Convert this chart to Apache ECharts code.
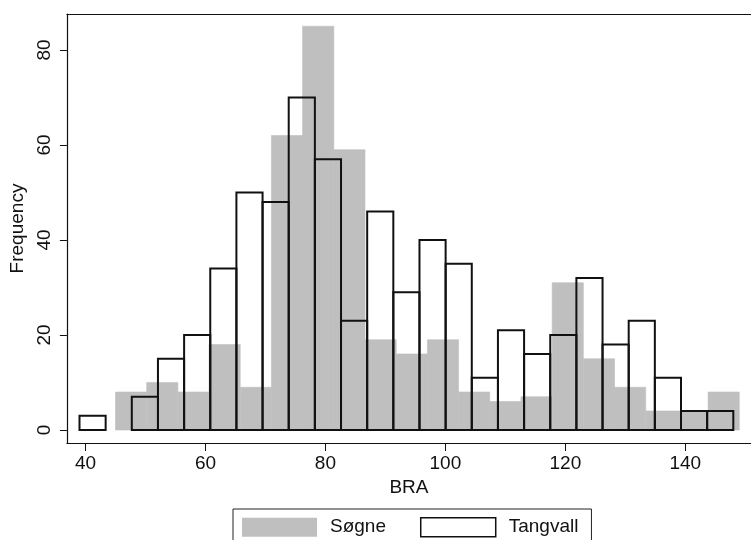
<!DOCTYPE html>
<html>
<head>
<meta charset="utf-8">
<script src="https://cdn.jsdelivr.net/npm/echarts@6/dist/echarts.min.js"></script>
<style>
  html, body { margin: 0; padding: 0; background: #fff; }
  #chart { width: 751px; height: 540px; }
</style>
</head>
<body>
<div id="chart"></div>
<script>
// Søgne: 20 bins, width 5.2, first bin starts at 45
const sogneStart = 45;
const sogneBinWidth = 5.2;
const sogneCounts = [8, 10, 8, 18, 9, 62, 85, 59, 19, 16, 19, 8, 6, 7, 31, 15, 9, 4, 4, 8];

// Tangvall: 25 bins, width 4.36, first bin starts at 39
const tangvallStart = 39;
const tangvallBinWidth = 4.36;
const tangvallCounts = [3, 0, 7, 15, 20, 34, 50, 48, 70, 57, 23, 46, 29, 40, 35, 11, 21, 16, 20, 32, 18, 23, 11, 4, 4];

const xTicks = [40, 60, 80, 100, 120, 140];
const yTicks = [0, 20, 40, 60, 80];

const FONT = "'Liberation Sans', Arial, Helvetica, sans-serif";
const GREY = '#bfbfbf';
const INK = '#111';

// [lower edge, upper edge, count] for each bin
function toBins(start, width, counts) {
  return counts.map((c, i) => [start + i * width, start + (i + 1) * width, c]);
}

function histRenderer(style) {
  return function (params, api) {
    const lo = api.value(0), hi = api.value(1), n = api.value(2);
    if (!n) return null;
    const base = api.coord([lo, 0]);
    const top = api.coord([hi, n]);
    return {
      type: 'rect',
      shape: { x: base[0], y: top[1], width: top[0] - base[0], height: base[1] - top[1] },
      style: style
    };
  };
}

const chart = echarts.init(document.getElementById('chart'), null, { renderer: 'canvas' });

chart.setOption({
  animation: false,
  backgroundColor: '#fff',
  textStyle: { fontFamily: FONT, color: INK },
  grid: { left: 64, top: 14, right: -11, bottom: 97, containLabel: false },
  xAxis: [
    {
      type: 'value',
      position: 'bottom',
      min: 36.9,
      max: 150.95,
      splitLine: { show: false },
      axisLine: { show: true, onZero: false, lineStyle: { color: INK, width: 1.2 } },
      axisTick: { show: true, length: 8, customValues: xTicks, lineStyle: { color: INK, width: 1 } },
      axisLabel: { customValues: xTicks, fontSize: 19, margin: 11, color: INK, fontFamily: FONT },
      name: 'BRA',
      nameLocation: 'middle',
      nameGap: 34,
      nameTextStyle: { fontSize: 19, color: INK, fontFamily: FONT }
    },
    {
      type: 'value',
      position: 'top',
      min: 36.9,
      max: 150.95,
      splitLine: { show: false },
      axisLine: { show: true, onZero: false, lineStyle: { color: INK, width: 1.2 } },
      axisTick: { show: false },
      axisLabel: { show: false }
    }
  ],
  yAxis: {
    type: 'value',
    min: -2.74,
    max: 87.58,
    splitLine: { show: false },
    axisLine: { show: true, onZero: false, lineStyle: { color: INK, width: 1.2 } },
    axisTick: { show: true, length: 7, customValues: yTicks, lineStyle: { color: INK, width: 1 } },
    axisLabel: { customValues: yTicks, rotate: 90, fontSize: 19, margin: 13, color: INK, fontFamily: FONT },
    name: 'Frequency',
    nameLocation: 'middle',
    nameGap: 27,
    nameTextStyle: { fontSize: 19, color: INK, fontFamily: FONT }
  },
  legend: {
    left: 233,
    top: 509,
    orient: 'horizontal',
    padding: [8, 13, 12, 9],
    itemGap: 34,
    itemWidth: 75,
    itemHeight: 19,
    borderColor: '#222',
    borderWidth: 1,
    textStyle: { fontSize: 19, color: INK, fontFamily: FONT, padding: [0, 0, 0, 8] },
    data: [
      { name: 'Søgne', icon: 'rect', itemStyle: { color: GREY, borderWidth: 0 } },
      { name: 'Tangvall', icon: 'rect', itemStyle: { color: '#fff', borderColor: INK, borderWidth: 1.5 } }
    ]
  },
  series: [
    {
      name: 'Søgne',
      type: 'custom',
      xAxisIndex: 0,
      itemStyle: { color: GREY },
      encode: { x: [0, 1], y: 2 },
      renderItem: histRenderer({ fill: GREY, stroke: GREY, lineWidth: 0.6 }),
      data: toBins(sogneStart, sogneBinWidth, sogneCounts),
      z: 1
    },
    {
      name: 'Tangvall',
      type: 'custom',
      xAxisIndex: 0,
      itemStyle: { color: '#fff', borderColor: INK, borderWidth: 1.5 },
      encode: { x: [0, 1], y: 2 },
      renderItem: histRenderer({ fill: 'none', stroke: INK, lineWidth: 2 }),
      data: toBins(tangvallStart, tangvallBinWidth, tangvallCounts),
      z: 2
    }
  ]
});
</script>
</body>
</html>
